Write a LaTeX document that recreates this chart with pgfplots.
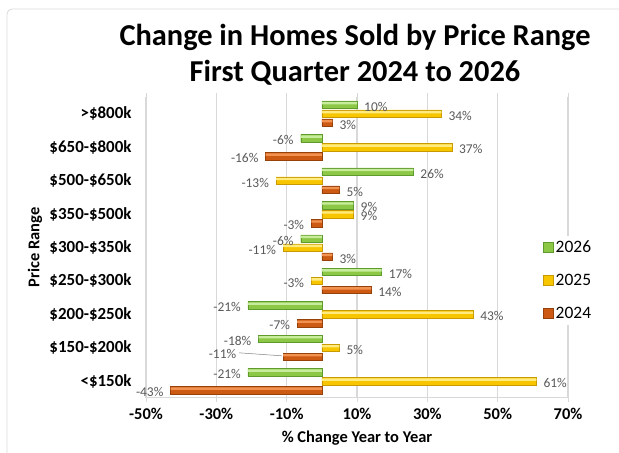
\documentclass[border=0pt]{standalone}
\usepackage{fontspec}
\setmainfont{Carlito}
\usepackage{pgfplots}
\usepackage{pgfplotstable}
\pgfplotsset{compat=1.18}
\definecolor{gridgray}{HTML}{D9D9D9}
\definecolor{lblgray}{HTML}{595959}
\definecolor{gMid}{HTML}{8CC846}
\definecolor{gHi}{HTML}{C6EC9C}
\definecolor{gBot}{HTML}{5E9A2C}
\definecolor{yMid}{HTML}{F7C600}
\definecolor{yHi}{HTML}{FFEB80}
\definecolor{yBot}{HTML}{C99A00}
\definecolor{oMid}{HTML}{CC5A12}
\definecolor{oHi}{HTML}{F29250}
\definecolor{oBot}{HTML}{96400A}
% columns: y index (0 = <$150k ... 8 = >$800k), 2026, 2025, 2024
\pgfplotstableread{
y   a26  a25  a24
0   -21  61   -43
1   -18  5    -11
2   -21  43   -7
3   17   -3   14
4   -6   -11  3
5   9    9    -3
6   26   -13  5
7   -6   37   -16
8   10   34   3
}\datatable
\pgfplotstableread{
y   a24
0   -43
2   -7
3   14
4   3
5   -3
6   5
7   -16
8   3
}\datatableB
\pgfplotstableread{
y   a24
1   -11
}\datatableC
\begin{document}
\begin{tikzpicture}
\useasboundingbox (0bp,0bp) rectangle (619bp,453bp);
\draw[gridgray, line width=0.8bp, rounded corners=5bp] (7bp,444bp) rectangle (640bp,-20bp);
\node[font=\fontsize{30.5}{36}\selectfont\bfseries, align=center] at (355bp,398bp)
  {Change in Homes Sold by Price Range\\First Quarter 2024 to 2026};
\begin{axis}[
  at={(146bp,55bp)}, anchor=south west,
  scale only axis, width=422bp, height=301bp,
  xbar, bar width=7.5bp,
  xmin=-50, xmax=70, ymin=-0.5, ymax=8.5,
  xtick={-50,-30,-10,10,30,50,70},
  xticklabel={\pgfmathprintnumber{\tick}\%},
  /pgf/number format/assume math mode=true,
  ytick={0,...,8},
  yticklabels={<\$150k,\$150-\$200k,\$200-\$250k,\$250-\$300k,\$300-\$350k,\$350-\$500k,\$500-\$650k,\$650-\$800k,>\$800k},
  ticklabel style={font=\fontsize{16.5}{19}\selectfont\bfseries},
  yticklabel style={font=\fontsize{17}{19}\selectfont\bfseries, xshift=-7bp},
  xticklabel style={yshift=-3bp},
  xmajorgrids, grid style={gridgray, line width=1.3bp},
  axis line style={draw=none},
  xtick style={draw=gridgray, line width=1bp}, tick align=outside, major tick length=4bp,
  ytick style={draw=none},
  xlabel={\% Change Year to Year},
  ylabel={Price Range},
  every axis x label/.style={at={(axis description cs:0.5,0)}, anchor=center, yshift=-40bp,
    font=\fontsize{16.5}{19}\selectfont\bfseries},
  every axis y label/.style={at={(axis description cs:-0.263,0.5)}, anchor=center, rotate=90,
    font=\fontsize{16.5}{19}\selectfont\bfseries},
  point meta=x,
  nodes near coords={\pgfmathprintnumber{\pgfplotspointmeta}\%},
  nodes near coords align={horizontal},
  every node near coord/.append style={font=\fontsize{13.5}{15}\selectfont, text=lblgray,
    inner xsep=7bp, inner ysep=1bp, yshift=-2bp},
  legend style={at={(rel axis cs:0.934,0.54)}, anchor=north west, draw=none, fill=white,
    font=\fontsize{17.5}{20}\selectfont, row sep=16bp, inner sep=3bp},
  legend cell align=left,
  legend image code/.code={\draw[#1] (0bp,-5bp) rectangle (10bp,5bp);},
  hi/.style={forget plot, nodes near coords={}, bar width=2.4bp, draw=none},
]
\addplot[bar shift=9bp, draw=gBot, line width=0.4bp, fill=gMid]
  table[x=a26, y=y] {\datatable};
\addlegendentry{2026}
\addplot[bar shift=0bp, draw=yBot, line width=0.4bp, fill=yMid]
  table[x=a25, y=y] {\datatable};
\addlegendentry{2025}
\addplot[bar shift=-9bp, draw=oBot, line width=0.4bp, fill=oMid]
  table[x=a24, y=y] {\datatableB};
\addlegendentry{2024}
\addplot[forget plot, nodes near coords={}, bar shift=-9bp, draw=oBot, line width=0.4bp, fill=oMid]
  table[x=a24, y=y] {\datatableC};
% highlights (cylinder look)
\addplot[hi, bar shift=10.6bp, fill=gHi] table[x=a26, y=y] {\datatable};
\addplot[hi, bar shift=1.6bp, fill=yHi] table[x=a25, y=y] {\datatable};
\addplot[hi, bar shift=-7.4bp, fill=oHi] table[x=a24, y=y] {\datatable};
\draw[gray, line width=0.5bp] ([yshift=-5bp]axis cs:-23.5,1) -- ([yshift=-8bp]axis cs:-11.3,1);
\node[anchor=east, font=\fontsize{13.5}{15}\selectfont, text=lblgray, inner sep=1bp] at ([yshift=-6bp]axis cs:-24,1) {-11\%};
\draw[gridgray, line width=1.3bp] (rel axis cs:0,0) -- (rel axis cs:1,0);
\end{axis}
\end{tikzpicture}
\end{document}
